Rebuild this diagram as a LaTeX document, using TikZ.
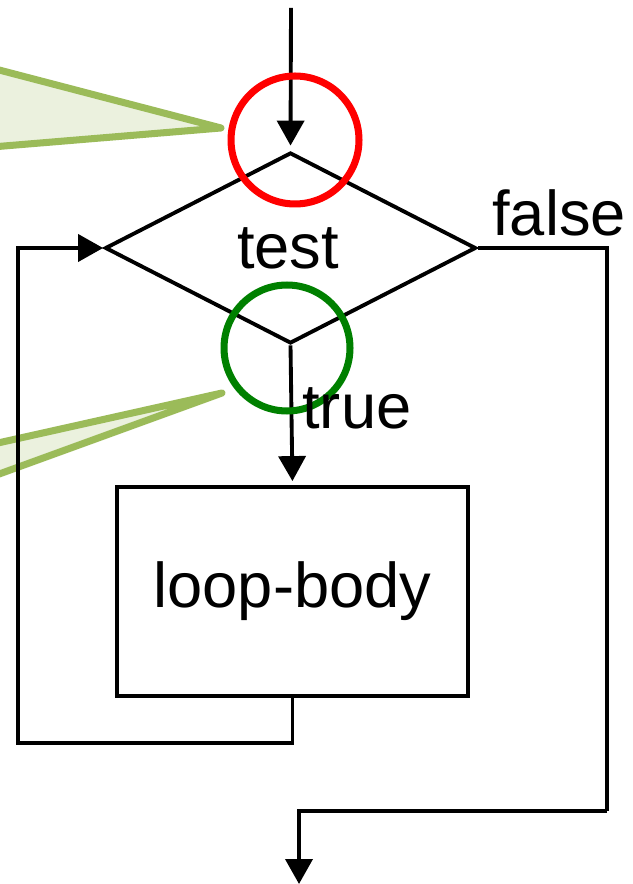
\documentclass[tikz,border=0pt]{standalone}
\usepackage{fontspec}
\setmainfont{Liberation Sans}
\usetikzlibrary{arrows.meta,shapes.geometric}
\usetikzlibrary{positioning}
\definecolor{calloutline}{RGB}{155,187,89}
\definecolor{calloutfill}{RGB}{235,241,222}
\definecolor{okgreen}{RGB}{0,128,0}
\tikzstyle{decision} = [diamond, minimum width=7.42cm, minimum height=3.82cm, inner sep=0pt, draw=black, line width=2.2pt]
\tikzstyle{block} = [rectangle, minimum width=7.02cm, minimum height=4.18cm, inner sep=0pt, draw=black, line width=2.2pt]
\tikzstyle{flow} = [line width=2.2pt, -{Triangle[length=0.5cm,width=0.54cm]}]
\tikzstyle{ring} = [circle, inner sep=0pt, line width=4pt]
\tikzstyle{callout} = [draw=calloutline, fill=calloutfill, line width=4pt, line join=round]

\begin{document}
\begin{tikzpicture}[x=0.02cm, y=-0.02cm, font=\fontsize{36}{40}\selectfont]
\useasboundingbox (0,0) rectangle (632,884);

% callout pointers coming in from the left
\filldraw[callout] (-20,65) -- (221,128) -- (-20,148) -- cycle;
\filldraw[callout] (-20,447) -- (222,393) -- (-20,481) -- cycle;

% flow chart
\node (test) [decision] at (290.5,248) {};
\node (body) [block] at (292.5,591.5) {loop-body};

\coordinate (start) at (291,8);
\coordinate (back) at (18,743);
\coordinate (turn) at (607,811);
\coordinate (exit) at (299,884);

\draw[flow, shorten >=0.1cm] (start) -- (test.north);
\draw[flow, shorten >=0.08cm] (test.south) -- (body.north);
\draw[flow] (body.south) |- (back) |- (test.west);
\draw[line width=2.2pt] (test.east) -| (turn);
\draw[flow] (turn) -| (exit);

% highlight rings
\node (entry) [ring, draw=red, minimum size=2.56cm] at (295,140) {};
\node (enter) [ring, draw=okgreen, minimum size=2.52cm] at (287,348) {};

% labels
\node (testlabel) at (288,248) {test};
\node (truelabel) [anchor=base west, inner sep=0pt] at (302,428) {true};
\node (falselabel) [anchor=base west, inner sep=0pt] at (492,236) {false};
\end{tikzpicture}
\end{document}
